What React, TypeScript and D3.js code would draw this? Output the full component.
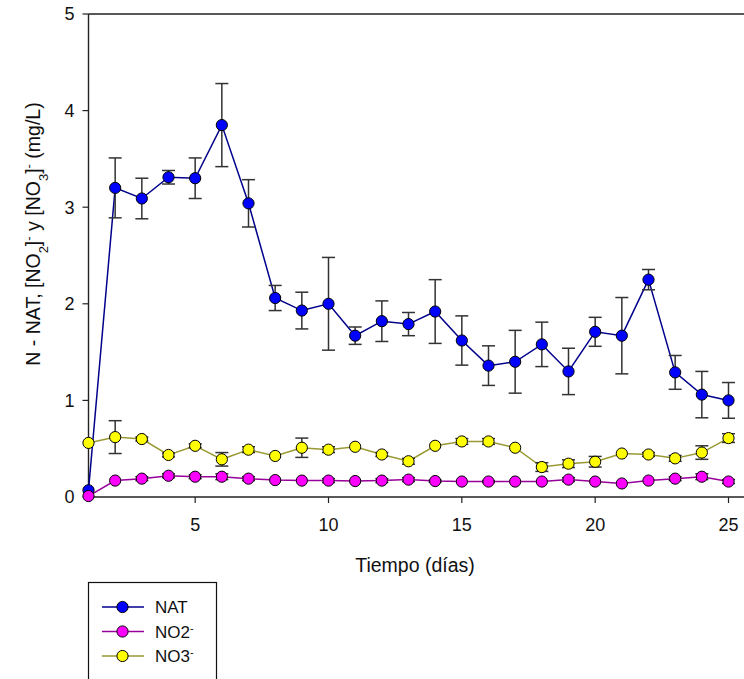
import React from "react";
import * as d3 from "d3";

// Days of sampling
const days = [1, 2, 3, 4, 5, 6, 7, 8, 9, 10, 11, 12, 13, 14, 15, 16, 17, 18, 19, 20, 21, 22, 23, 24, 25];

// N - NAT (mg/L) and its standard deviation
const natValues = [0.07, 3.2, 3.09, 3.31, 3.3, 3.85, 3.04, 2.06, 1.93, 2.0, 1.67, 1.82, 1.79, 1.92, 1.62, 1.36, 1.4, 1.58, 1.3, 1.71, 1.67, 2.25, 1.29, 1.06, 1.0];
const natErrors = [0, 0.31, 0.21, 0.07, 0.21, 0.43, 0.245, 0.13, 0.19, 0.48, 0.09, 0.21, 0.12, 0.33, 0.255, 0.205, 0.325, 0.23, 0.24, 0.15, 0.395, 0.105, 0.175, 0.24, 0.185];

// Nitrite (mg/L) and its standard deviation
const no2Values = [0.01, 0.17, 0.19, 0.22, 0.21, 0.21, 0.19, 0.175, 0.17, 0.17, 0.165, 0.17, 0.18, 0.165, 0.16, 0.16, 0.16, 0.16, 0.18, 0.16, 0.14, 0.17, 0.19, 0.21, 0.16];
const no2Errors = [0, 0, 0.02, 0.02, 0.02, 0.03, 0.02, 0, 0, 0.02, 0, 0.02, 0.02, 0.01, 0, 0.01, 0, 0, 0.02, 0, 0, 0, 0.02, 0.03, 0.02];

// Nitrate (mg/L) and its standard deviation
const no3Values = [0.56, 0.62, 0.6, 0.435, 0.53, 0.39, 0.49, 0.425, 0.51, 0.49, 0.52, 0.44, 0.37, 0.53, 0.575, 0.575, 0.51, 0.31, 0.345, 0.365, 0.45, 0.44, 0.4, 0.46, 0.61];
const no3Errors = [0, 0.17, 0.02, 0.02, 0.02, 0.07, 0.03, 0, 0.1, 0.03, 0, 0.02, 0.03, 0, 0.03, 0.03, 0, 0.045, 0.04, 0.055, 0, 0.02, 0.03, 0.07, 0.045];

const xTicks = [5, 10, 15, 20, 25];
const yTicks = [0, 1, 2, 3, 4, 5];

const FONT = "Arial, 'Liberation Sans', sans-serif";

type Series = {
  key: string;
  label: string;
  sup: string;
  values: number[];
  errors: number[];
  line: string;
  fill: string;
};

const series: Series[] = [
  { key: "nat", label: "NAT", sup: "", values: natValues, errors: natErrors, line: "#00008b", fill: "#0000ff" },
  { key: "no3", label: "NO3", sup: "-", values: no3Values, errors: no3Errors, line: "#999933", fill: "#ffff00" },
  { key: "no2", label: "NO2", sup: "-", values: no2Values, errors: no2Errors, line: "#990099", fill: "#ff00ff" },
];

const legendOrder = ["nat", "no2", "no3"];

export default function App() {
  const W = 744;
  const H = 679;
  const left = 88.5;
  const top = 14;
  const bottom = 497;

  const x = d3.scaleLinear().domain([1, 25]).range([left, 728.5]);
  const y = d3.scaleLinear().domain([0, 5]).range([bottom, top]);
  const right = W;

  const line = d3
    .line<number>()
    .x((_, i) => x(days[i]))
    .y((v) => y(v));

  const r = 5.6;
  const cap = 6.5;

  return (
    <svg
      width={W}
      height={H}
      style={{ position: "absolute", left: 0, top: 0, background: "#fff" }}
      fontFamily={FONT}
    >
      <rect width={W} height={H} fill="#fff" />

      {/* frame: left axis, bottom axis, top edge */}
      <line x1={left} x2={left} y1={top} y2={bottom} stroke="#222" strokeWidth={1.4} />
      <line x1={left} x2={right} y1={bottom} y2={bottom} stroke="#222" strokeWidth={1.4} />
      <line x1={left} x2={right} y1={top} y2={top} stroke="#222" strokeWidth={1.4} />

      {/* y ticks */}
      {yTicks.map((t) => (
        <g key={"y" + t}>
          <line x1={left - 6} x2={left} y1={y(t)} y2={y(t)} stroke="#222" strokeWidth={1.2} />
          <text x={left - 14} y={y(t)} dy="0.36em" textAnchor="end" fontSize={18} fill="#111">
            {t}
          </text>
        </g>
      ))}

      {/* x ticks */}
      {xTicks.map((t) => (
        <g key={"x" + t}>
          <line x1={x(t)} x2={x(t)} y1={bottom} y2={bottom + 6} stroke="#222" strokeWidth={1.2} />
          <text x={x(t)} y={bottom + 34} textAnchor="middle" fontSize={18} fill="#111">
            {t}
          </text>
        </g>
      ))}

      {/* axis titles */}
      <text x={415} y={572} textAnchor="middle" fontSize={19.5} fill="#111">
        Tiempo (días)
      </text>
      <text
        transform={`translate(40, ${234}) rotate(-90)`}
        textAnchor="middle"
        fontSize={19.5}
        fill="#111"
      >
        N - NAT, [NO<tspan baselineShift="sub" fontSize={13}>2</tspan>]
        <tspan baselineShift="super" fontSize={13}>-</tspan> y [NO
        <tspan baselineShift="sub" fontSize={13}>3</tspan>]
        <tspan baselineShift="super" fontSize={13}>-</tspan> (mg/L)
      </text>

      {/* series lines */}
      {series.map((s) => (
        <path key={s.key + "l"} d={line(s.values) || ""} fill="none" stroke={s.line} strokeWidth={1.5} />
      ))}

      {/* error bars and markers */}
      {series.map((s) => (
        <g key={s.key + "m"}>
          {s.values.map((v, i) =>
            s.errors[i] > 0 ? (
              <g key={i} stroke="#333" strokeWidth={1.5}>
                <line x1={x(days[i])} x2={x(days[i])} y1={y(v + s.errors[i])} y2={y(v - s.errors[i])} />
                <line x1={x(days[i]) - cap} x2={x(days[i]) + cap} y1={y(v + s.errors[i])} y2={y(v + s.errors[i])} />
                <line x1={x(days[i]) - cap} x2={x(days[i]) + cap} y1={y(v - s.errors[i])} y2={y(v - s.errors[i])} />
              </g>
            ) : null
          )}
          {s.values.map((v, i) => (
            <circle key={"c" + i} cx={x(days[i])} cy={y(v)} r={r} fill={s.fill} stroke="#000" strokeWidth={1} />
          ))}
        </g>
      ))}

      {/* legend */}
      <rect x={88.5} y={582.5} width={128} height={120} fill="#fff" stroke="#111" strokeWidth={1.2} />
      {legendOrder.map((k, i) => {
        const s = series.find((d) => d.key === k)!;
        const ly = 607 + i * 24.5;
        return (
          <g key={"lg" + k}>
            <line x1={102} x2={144} y1={ly} y2={ly} stroke={s.line} strokeWidth={1.5} />
            <circle cx={122.5} cy={ly} r={r} fill={s.fill} stroke="#000" strokeWidth={1} />
            <text x={155} y={ly} dy="0.36em" fontSize={17} fill="#111">
              {s.label}
              {s.sup ? (
                <tspan baselineShift="super" fontSize={11}>
                  {s.sup}
                </tspan>
              ) : null}
            </text>
          </g>
        );
      })}
    </svg>
  );
}
